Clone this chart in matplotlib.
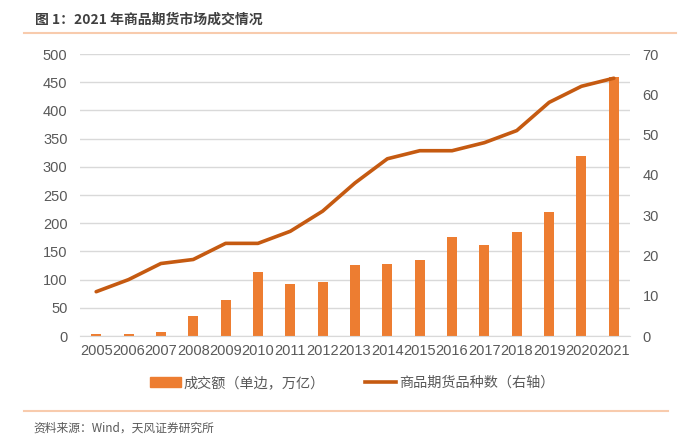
import numpy as np
import matplotlib
matplotlib.use("Agg")
import matplotlib.pyplot as plt
from matplotlib.lines import Line2D
from matplotlib.patches import Patch

plt.rcParams['font.family'] = ['Liberation Sans', 'Noto Sans CJK SC', 'DejaVu Sans']
CJK = ['Noto Sans CJK SC', 'DejaVu Sans']

years = [str(y) for y in range(2005, 2022)]
turnover = [3, 3, 8, 36, 64, 113, 93, 95, 126, 128, 135, 176, 162, 184, 220, 320, 460]
varieties = [11, 14, 18, 19, 23, 23, 26, 31, 38, 44, 46, 46, 48, 51, 58, 62, 64]

BAR_C = "#ED7D31"
LINE_C = "#C55A11"
TXT_C = "#595959"
GRID_C = "#D9D9D9"

fig = plt.figure(figsize=(7, 4.43), dpi=100)
ax = fig.add_axes([0.1143, 0.2415, 0.7857, 0.6365])
x = np.arange(len(years))
ax.bar(x, turnover, width=0.31, color=BAR_C, zorder=2)
ax.set_ylim(0, 500)
ax.set_yticks(range(0, 501, 50))
ax.set_xlim(-0.5, len(years) - 0.5)
ax.set_xticks(x)
ax.set_xticklabels(years)
ax.grid(axis="y", color=GRID_C, lw=1, zorder=0)
for s in ["top", "left", "right"]:
    ax.spines[s].set_visible(False)
ax.spines["bottom"].set_color(GRID_C)
ax.tick_params(axis="both", length=0, colors=TXT_C, labelsize=10.5)
ax.tick_params(axis="y", pad=9)
ax.tick_params(axis="x", pad=6)

ax2 = ax.twinx()
ax2.plot(x, varieties, color=LINE_C, lw=2.6, solid_capstyle="round", zorder=3)
ax2.set_ylim(0, 70)
ax2.set_yticks(range(0, 71, 10))
for s in ax2.spines.values():
    s.set_visible(False)
ax2.tick_params(axis="y", length=0, colors=TXT_C, labelsize=10.5, pad=9)

handles = [Patch(color=BAR_C), Line2D([], [], color=LINE_C, lw=2.6)]
labels = ["成交额（单边，万亿）", "商品期货品种数（右轴）"]
fig.legend(handles, labels, loc="center", bbox_to_anchor=(0.503, 1 - 383 / 443), ncol=2,
           frameon=False, prop={"family": CJK, "size": 10.2}, labelcolor=TXT_C,
           handlelength=2.2, handletextpad=0.2, columnspacing=2.8)

fig.text(35 / 700, 1 - 20 / 443, "图 1：2021 年商品期货市场成交情况", fontsize=10,
         fontweight="bold", color="#404040", va="center", family=CJK)
fig.add_artist(Line2D([24 / 700, 676 / 700], [1 - 33 / 443] * 2, color="#F8CBAD", lw=1.5))
fig.add_artist(Line2D([24 / 700, 668 / 700], [1 - 411 / 443] * 2, color="#F8CBAD", lw=1.5))
fig.text(33 / 700, 1 - 428 / 443, "资料来源：Wind，天风证券研究所", fontsize=8.5,
         color=TXT_C, va="center", family=CJK)

fig.savefig("out.png", dpi=100)
